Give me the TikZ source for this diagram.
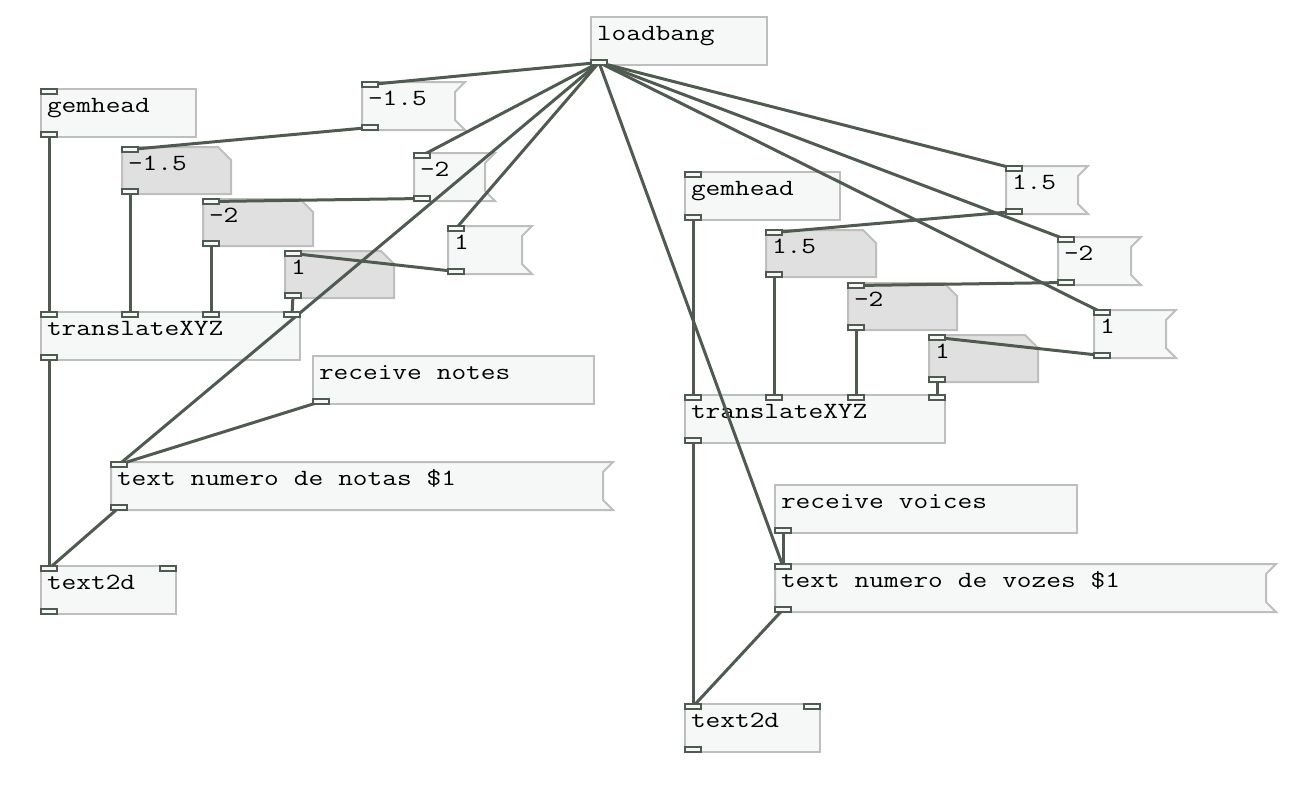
\documentclass[tikz,border=0pt]{standalone}
\usepackage{graphicx}
\usetikzlibrary{calc}
\definecolor{wire}{RGB}{79,91,81}
\definecolor{bord}{RGB}{190,190,190}
\definecolor{boxfill}{RGB}{246,248,248}
\definecolor{atomfill}{RGB}{224,224,224}
\pgfdeclarelayer{wires}
\pgfdeclarelayer{ports}
\pgfsetlayers{main,wires,ports}
\newcommand\sx[1]{\scalebox{1.23}[1]{\spaceskip=0.525em\relax\xspaceskip=0.525em\relax #1}}
% object box: name, left, top, width, text
\newcommand\pdobj[5]{%
  \pgfmathsetmacro\pdtw{#4-12}%
  \node[objbox,text width=\pdtw pt] (#1) at (#2,#3) {\sx{#5}};}
% message box
\newcommand\pdmsg[5]{%
  \pgfmathsetmacro\pdtw{#4-12}%
  \pgfmathsetmacro\pdr{#2+#4}%
  \pgfmathsetmacro\pdb{#3+48}%
  \filldraw[shapeline,fill=boxfill] (#2,#3) -- (\pdr,#3) -- (\pdr-10,#3+10) -- (\pdr-10,\pdb-10) -- (\pdr,\pdb) -- (#2,\pdb) -- cycle;
  \node[plainbox,text width=\pdtw pt] (#1) at (#2,#3) {\sx{#5}};}
% atom box
\newcommand\pdatom[5]{%
  \pgfmathsetmacro\pdtw{#4-12}%
  \pgfmathsetmacro\pdr{#2+#4}%
  \pgfmathsetmacro\pdb{#3+47}%
  \filldraw[shapeline,fill=atomfill] (#2,#3) -- (\pdr-13,#3) -- (\pdr,#3+13) -- (\pdr,\pdb) -- (#2,\pdb) -- cycle;
  \node[plainbox,text width=\pdtw pt,text depth=23.5pt] (#1) at (#2,#3) {\sx{#5}};}
% inlet: node, x offset, coordinate name
\newcommand\pdin[3]{%
  \begin{pgfonlayer}{ports}
  \draw[iolet] ([shift={(#2,0)}]#1.north west) rectangle ++(16,5);
  \end{pgfonlayer}
  \coordinate (#3) at ([shift={(#2+8,2.5)}]#1.north west);}
% outlet
\newcommand\pdout[3]{%
  \begin{pgfonlayer}{ports}
  \draw[iolet] ([shift={(#2,-5)}]#1.south west) rectangle ++(16,5);
  \end{pgfonlayer}
  \coordinate (#3) at ([shift={(#2+8,-2.5)}]#1.south west);}
\begin{document}
\begin{tikzpicture}[x=1pt,y=-1pt,
  pdbase/.style={anchor=north west,outer sep=0pt,inner xsep=6pt,inner ysep=0pt,
    text height=23.5pt,text depth=24.5pt,align=left,
    font=\ttfamily\fontsize{23.2}{24}\selectfont},
  objbox/.style={pdbase,draw=bord,fill=boxfill,line width=2pt},
  plainbox/.style={pdbase},
  shapeline/.style={draw=bord,line width=2pt,line join=miter},
  iolet/.style={draw=wire,fill=boxfill,line width=1.5pt},
  wireline/.style={draw=wire,line width=3pt}]
\fill[white] (0,0) rectangle (1308,804);
\useasboundingbox (0,0) rectangle (1308,804);

% ---------- left group ----------
\pdobj{lb}{591}{17}{176}{loadbang}
\pdout{lb}{0}{lbo}

\pdobj{gha}{41}{89}{155}{gemhead}
\pdin{gha}{0}{ghai}
\pdout{gha}{0}{ghao}

\pdmsg{ma}{362}{82}{103}{-1.5}
\pdin{ma}{0}{mai}
\pdout{ma}{0}{mao}

\pdatom{aa}{122}{147}{109}{-1.5}
\pdin{aa}{0}{aai}
\pdout{aa}{0}{aao}

\pdmsg{mb}{414}{153}{81}{-2}
\pdin{mb}{0}{mbi}
\pdout{mb}{0}{mbo}

\pdatom{ab}{203}{199}{110}{-2}
\pdin{ab}{0}{abi}
\pdout{ab}{0}{abo}

\pdmsg{mc}{448}{226}{84}{1}
\pdin{mc}{0}{mci}
\pdout{mc}{0}{mco}

\pdatom{ac}{285}{251}{109}{1}
\pdin{ac}{0}{aci}
\pdout{ac}{0}{aco}

\pdobj{txa}{41}{312}{259}{translateXYZ}
\pdin{txa}{0}{txai1}
\pdin{txa}{81}{txai2}
\pdin{txa}{162}{txai3}
\pdin{txa}{243}{txai4}
\pdout{txa}{0}{txao}

\pdobj{rna}{313}{356}{281}{receive notes}
\pdout{rna}{0}{rnao}

\pdmsg{tna}{111}{462}{502}{text numero de notas \$1}
\pdin{tna}{0}{tnai}
\pdout{tna}{0}{tnao}

\pdobj{tda}{41}{566}{135}{text2d}
\pdin{tda}{0}{tdai1}
\pdin{tda}{119}{tdai2}
\pdout{tda}{0}{tdao}

% ---------- right group ----------
\pdobj{ghb}{685}{172}{155}{gemhead}
\pdin{ghb}{0}{ghbi}
\pdout{ghb}{0}{ghbo}

\pdmsg{md}{1006}{166}{82}{1.5}
\pdin{md}{0}{mdi}
\pdout{md}{0}{mdo}

\pdatom{ad}{766}{230}{110}{1.5}
\pdin{ad}{0}{adi}
\pdout{ad}{0}{ado}

\pdmsg{me}{1058}{237}{83}{-2}
\pdin{me}{0}{mei}
\pdout{me}{0}{meo}

\pdatom{ae}{848}{283}{109}{-2}
\pdin{ae}{0}{aei}
\pdout{ae}{0}{aeo}

\pdmsg{mf}{1094}{310}{82}{1}
\pdin{mf}{0}{mfi}
\pdout{mf}{0}{mfo}

\pdatom{af}{929}{335}{109}{1}
\pdin{af}{0}{afi}
\pdout{af}{0}{afo}

\pdobj{txb}{685}{395}{260}{translateXYZ}
\pdin{txb}{0}{txbi1}
\pdin{txb}{81}{txbi2}
\pdin{txb}{163}{txbi3}
\pdin{txb}{244}{txbi4}
\pdout{txb}{0}{txbo}

\pdobj{rvb}{775}{485}{302}{receive voices}
\pdout{rvb}{0}{rvbo}

\pdmsg{tvb}{775}{564}{501}{text numero de vozes \$1}
\pdin{tvb}{0}{tvbi}
\pdout{tvb}{0}{tvbo}

\pdobj{tdb}{685}{704}{135}{text2d}
\pdin{tdb}{0}{tdbi1}
\pdin{tdb}{119}{tdbi2}
\pdout{tdb}{0}{tdbo}

% ---------- wires ----------
\begin{pgfonlayer}{wires}
\draw[wireline] (lbo) -- (mai);
\draw[wireline] (lbo) -- (mbi);
\draw[wireline] (lbo) -- (mci);
\draw[wireline] (lbo) -- (tnai);
\draw[wireline] (lbo) -- (tvbi);
\draw[wireline] (lbo) -- (mdi);
\draw[wireline] (lbo) -- (mei);
\draw[wireline] (lbo) -- (mfi);

\draw[wireline] (mao) -- (aai);
\draw[wireline] (mbo) -- (abi);
\draw[wireline] (mco) -- (aci);
\draw[wireline] (aao) -- (txai2);
\draw[wireline] (abo) -- (txai3);
\draw[wireline] (aco) -- (txai4);
\draw[wireline] (ghao) -- (txai1);
\draw[wireline] (txao) -- (tdai1);
\draw[wireline] (rnao) -- (tnai);
\draw[wireline] (tnao) -- (tdai1);

\draw[wireline] (mdo) -- (adi);
\draw[wireline] (meo) -- (aei);
\draw[wireline] (mfo) -- (afi);
\draw[wireline] (ado) -- (txbi2);
\draw[wireline] (aeo) -- (txbi3);
\draw[wireline] (afo) -- (txbi4);
\draw[wireline] (ghbo) -- (txbi1);
\draw[wireline] (txbo) -- (tdbi1);
\draw[wireline] (rvbo) -- (tvbi);
\draw[wireline] (tvbo) -- (tdbi1);
\end{pgfonlayer}
\end{tikzpicture}
\end{document}
